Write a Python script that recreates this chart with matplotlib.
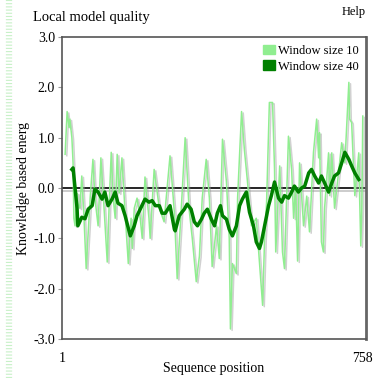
import matplotlib
matplotlib.use("Agg")
import matplotlib.pyplot as plt
import matplotlib.patheffects as pe
from matplotlib.lines import Line2D
from matplotlib.patches import Patch

plt.rcParams['font.family'] = ['Liberation Serif', 'DejaVu Serif']
plt.rcParams['axes.unicode_minus'] = False
plt.rcParams['lines.scale_dashes'] = False

# window size 10 profile (sequence position, energy)
w10_pos = [9, 14, 19, 21, 26, 29, 31, 34, 39, 41, 46, 51, 56, 62, 67, 72, 79, 84, 92, 97,
           99, 107, 115, 120, 125, 130, 135, 140, 145, 152, 160, 168, 175, 178, 183, 190,
           198, 203, 210, 220, 223, 233, 246, 258, 273, 284, 291, 300, 311, 314, 321, 329,
           339, 347, 354, 364, 372, 379, 390, 397, 405, 415, 422, 425, 430, 440, 443, 453,
           460, 468, 478, 490, 498, 506, 511, 516, 523, 531, 536, 539, 549, 556, 561, 571,
           579, 584, 589, 594, 599, 609, 617, 624, 634, 642, 647, 649, 654, 659, 662, 672,
           675, 680, 687, 697, 705, 713, 723, 725, 730, 735, 738, 748, 750, 753, 756, 758]
w10_val = [0.67, 1.52, 1.2, 1.37, 1.0, 0.5, -0.6, -0.75, -0.1, -0.3, -0.4, 0.24, -0.5, -1.6,
           -0.9, -0.2, 0.57, -0.2, -0.75, 0.2, 0.6, -0.4, -1.47, -0.3, 0.71, -0.2, -0.6, 0.67,
           -0.1, 0.6, -0.5, -1.5, -0.6, -1.2, -0.4, -0.2, -0.6, -1.0, 0.22, -0.6, -1.0, 0.37,
           -0.4, -0.67, 0.64, -0.5, -1.8, -0.6, 1.0, 0.6, -0.42, -1.0, -1.86, -1.35, -0.2,
           0.57, -0.2, -1.56, -0.75, -1.4, 0.97, 0.12, -1.0, -2.8, -1.5, -1.7, -0.2, 1.52,
           0.77, 0.12, -0.75, -0.6, -1.47, -2.33, -1.0, -0.28, 1.7, 1.7, 0.37, -1.27, 0.44,
           -1.27, -1.6, 1.03, 0.37, -0.6, 0.04, -1.45, 0.5, -0.75, -0.16, -0.87, 0.71, 1.37,
           0.6, 1.1, -1.07, -1.27, -0.4, 0.7, -0.15, 0.7, -0.4, 0.3, 0.9, 0.5, 2.1, 1.37, 1.3,
           0.37, -0.15, 0.7, -0.15, -1.15, -0.3, 1.43]

# window size 40 profile
w40_pos = [26, 29, 34, 39, 41, 51, 59, 67, 77, 84, 92, 102, 109, 117, 127, 135, 142, 152,
           160, 173, 183, 190, 198, 210, 220, 228, 236, 246, 253, 261, 273, 284, 286, 296,
           309, 316, 326, 334, 342, 352, 359, 367, 377, 385, 392, 400, 405, 415, 422, 430,
           440, 448, 455, 465, 473, 483, 490, 498, 503, 511, 521, 528, 536, 546, 554, 561,
           571, 579, 586, 596, 604, 612, 622, 629, 637, 647, 654, 662, 672, 680, 687, 697,
           705, 713, 723, 730, 738, 748]
w40_val = [0.37, 0.4, 0.0, -0.4, -0.75, -0.58, -0.61, -0.42, -0.35, -0.02, -0.08, -0.22,
           -0.08, -0.35, -0.22, -0.08, -0.3, -0.35, -0.55, -0.95, -0.75, -0.55, -0.42, -0.22,
           -0.28, -0.25, -0.35, -0.35, -0.5, -0.5, -0.35, -0.82, -0.85, -0.55, -0.42, -0.32,
           -0.42, -0.67, -0.75, -0.62, -0.5, -0.42, -0.62, -0.75, -0.5, -0.35, -0.55, -0.62,
           -0.82, -0.95, -0.75, -0.35, -0.22, -0.08, -0.48, -0.75, -1.07, -1.2, -1.07, -0.75,
           -0.35, -0.15, 0.12, -0.2, -0.28, -0.15, -0.2, -0.08, 0.04, -0.08, 0.0, 0.04, 0.3,
           0.37, 0.24, 0.1, 0.24, 0.1, -0.08, 0.1, 0.24, 0.3, 0.5, 0.71, 0.57, 0.44, 0.3, 0.17]

y_ticks = [3.0, 2.0, 1.0, 0.0, -1.0, -2.0, -3.0]
x_ticks = [1, 758]

fig = plt.figure(figsize=(3.8, 3.78), dpi=100)
ax = fig.add_axes([0.163, 0.103, 0.800, 0.799])

shadow = [pe.SimpleLineShadow(offset=(1.2, -1.0), shadow_color='#999999', alpha=0.45), pe.Normal()]

ax.axhline(0, color='black', lw=1.2, zorder=2,
           path_effects=[pe.SimpleLineShadow(offset=(0, -2), shadow_color='#888888', alpha=0.5), pe.Normal()])
ax.plot(w10_pos, w10_val, color='#90ee90', lw=1.1, zorder=3, path_effects=shadow)
ax.plot(w40_pos, w40_val, color='#008000', lw=2.5, zorder=4)

ax.set_xlim(1, 766)
ax.set_ylim(-3.0, 3.0)
ax.set_yticks(y_ticks)
ax.set_yticklabels([f"{v:.1f}" for v in y_ticks], fontsize=10)
ax.set_xticks(x_ticks)
ax.set_xticklabels([str(v) for v in x_ticks], fontsize=10)
ax.tick_params(axis='y', length=3, width=0.8, color='#999999', pad=2)
ax.tick_params(axis='x', length=0, pad=9)

for side in ['left', 'bottom', 'top']:
    ax.spines[side].set_color('#555555')
    ax.spines[side].set_linewidth(1.2)
ax.spines['right'].set_color('#666666')
ax.spines['right'].set_linewidth(2)

ax.set_xlabel("Sequence position", fontsize=10, labelpad=-2)
ax.set_ylabel("Knowledge based energ", fontsize=10, labelpad=2)

handles = [Patch(color='#90ee90', label='Window size 10'),
           Patch(color='#008000', label='Window size 40')]
ax.legend(handles=handles, loc='upper right', frameon=False, fontsize=9,
          handlelength=1.0, handleheight=0.8, handletextpad=0.2, borderaxespad=0.2,
          labelspacing=0.3)

fig.text(0.087, 0.955, "Local model quality", fontsize=10.5, va='center', ha='left')
fig.text(0.962, 0.968, "Help", fontsize=9, va='center', ha='right')

# pale striped strip on the left edge
fig.add_artist(Line2D([0.024, 0.024], [0, 1], transform=fig.transFigure,
                      color='#c8f0c8', lw=4.5, dashes=(0.8, 1.5)))

fig.savefig("out.png", dpi=100)
